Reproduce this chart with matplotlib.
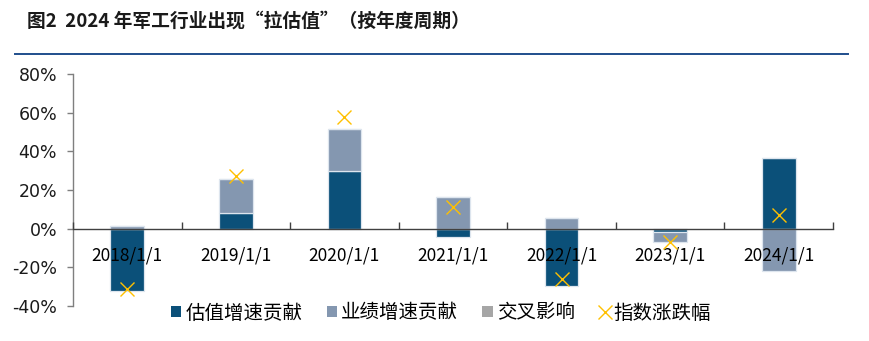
import numpy as np
import matplotlib
matplotlib.use("Agg")
import matplotlib.pyplot as plt
from matplotlib.patches import Patch
from matplotlib.lines import Line2D
from matplotlib.ticker import FuncFormatter, FixedLocator

plt.rcParams['font.family'] = ['Noto Sans CJK SC', 'DejaVu Sans']

categories = ['2018/1/1', '2019/1/1', '2020/1/1', '2021/1/1', '2022/1/1', '2023/1/1', '2024/1/1']
valuation = [-32.0, 8.1, 29.8, -4.5, -29.4, -1.7, 36.4]      # 估值增速贡献 (%)
earnings = [1.2, 17.8, 21.6, 16.2, 5.3, -5.4, -21.8]         # 业绩增速贡献 (%)
cross = [0.0, 0.0, 0.0, 0.0, 0.0, 0.0, 0.0]                  # 交叉影响 (%)
index_chg = [-31.0, 27.1, 57.8, 11.0, -25.9, -6.9, 6.9]      # 指数涨跌幅 (%)

series_names = ['估值增速贡献', '业绩增速贡献', '交叉影响']
series_colors = ['#0b5079', '#8497b0', '#a6a6a6']
title = '图2  2024 年军工行业出现“拉估值”（按年度周期）'

fig = plt.figure(figsize=(8.7, 3.41), dpi=100)
ax = fig.add_axes([73/870, 1-306/341, (833-73)/870, (306-74)/341])
ax.set_axisbelow(False)

x = np.arange(len(categories))
pos_base = np.zeros(len(categories))
neg_base = np.zeros(len(categories))
for vals, col in zip([valuation, earnings, cross], series_colors):
    v = np.array(vals, dtype=float)
    bottom = np.where(v >= 0, pos_base, neg_base)
    ax.bar(x, v, width=0.31, bottom=bottom, color=col, edgecolor='#dde5ee',
           linewidth=0.9, zorder=2)
    pos_base = pos_base + np.where(v >= 0, v, 0)
    neg_base = neg_base + np.where(v < 0, v, 0)

ax.plot(x, index_chg, linestyle='none', marker='x', markersize=9.5,
        markeredgewidth=1.0, color='#ffc000', zorder=4)

ax.set_xlim(-0.5, len(categories) - 0.5)
ax.set_ylim(-40, 80)
ax.yaxis.set_major_locator(FixedLocator([-40, -20, 0, 20, 40, 60, 80]))
ax.yaxis.set_major_formatter(FuncFormatter(lambda v, p: f"{v:.0f}%"))

ax.set_xticks(x)
ax.set_xticklabels(categories)
ax.set_xticks(np.arange(len(categories) + 1) - 0.5, minor=True)
ax.tick_params(axis='x', which='major', length=0, pad=12.5, labelsize=12.5)
ax.tick_params(axis='x', which='minor', direction='in', length=5, width=1, color='#404040')
ax.tick_params(axis='y', which='major', direction='out', length=4.5, width=1,
               color='#7f7f7f', pad=7, labelsize=12.5)
for lbl in ax.get_xticklabels() + ax.get_yticklabels():
    lbl.set_fontfamily('DejaVu Sans')
    lbl.set_color('#1a1a1a')

ax.spines['top'].set_visible(False)
ax.spines['right'].set_visible(False)
ax.spines['bottom'].set_position(('data', 0))
ax.spines['bottom'].set_color('#404040')
ax.spines['bottom'].set_linewidth(1.0)
ax.spines['bottom'].set_zorder(3)
ax.spines['left'].set_color('#7f7f7f')
ax.spines['left'].set_linewidth(1.0)

# title and rule
fig.text(27/870, 1-21/341, title, fontsize=13.5, fontweight='bold',
         ha='left', va='center', color='#1a1a1a')
fig.add_artist(Line2D([15/870, 848/870], [1-53.5/341, 1-53.5/341],
                      transform=fig.transFigure, color='#1f4e8c', linewidth=1.4))

handles = [Patch(facecolor=c, edgecolor='none') for c in series_colors]
handles.append(Line2D([], [], linestyle='none', marker='x', markersize=9.5,
                      markeredgewidth=1.0, color='#ffc000'))
labels = series_names + ['指数涨跌幅']
fig.legend(handles, labels, loc='center', bbox_to_anchor=(441/870, 1-313/341),
           ncol=4, frameon=False, fontsize=14, handlelength=0.55, handleheight=0.55,
           handletextpad=0.2, columnspacing=1.25, borderpad=0)

fig.savefig('out.png', dpi=100)
